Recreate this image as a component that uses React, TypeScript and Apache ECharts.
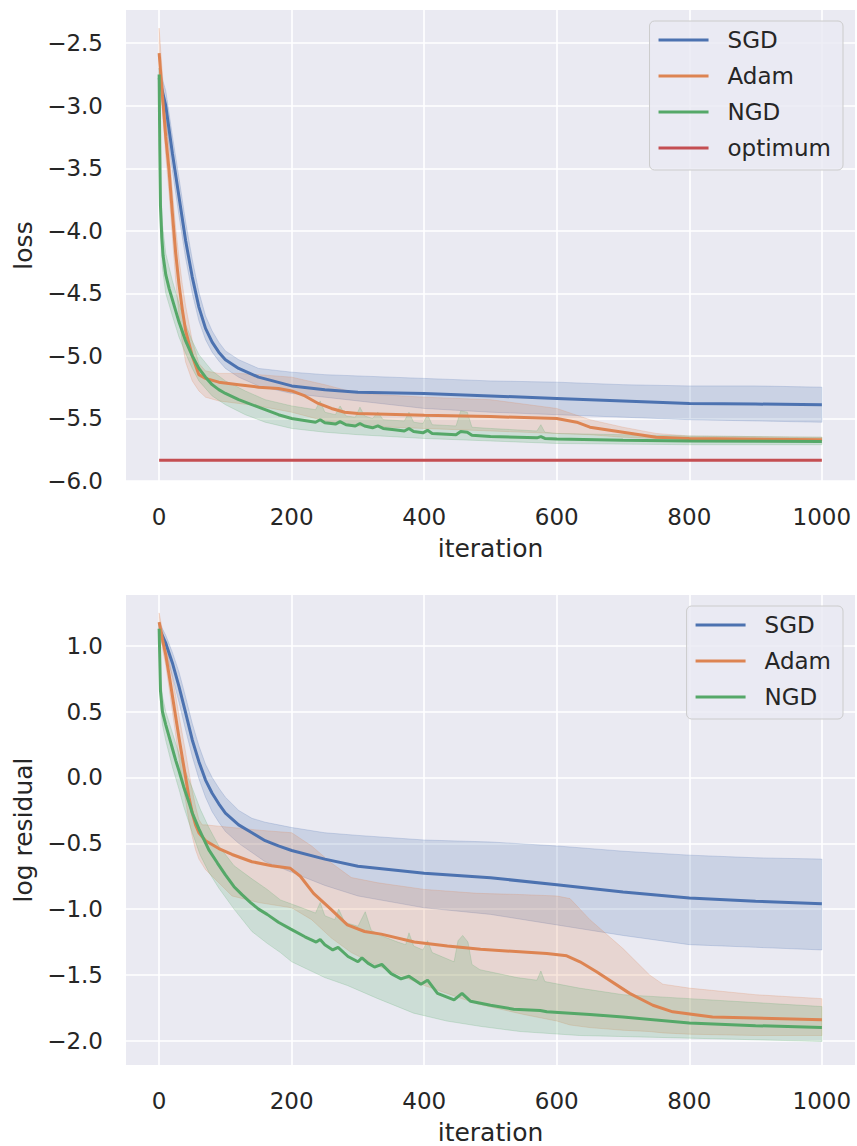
import React, { useEffect, useRef } from 'react';
import * as echarts from 'echarts';

// ---------- data: top panel (loss) ----------
const xTicks = [0, 200, 400, 600, 800, 1000];
const lossTicks = [-6.0, -5.5, -5.0, -4.5, -4.0, -3.5, -3.0, -2.5];
const resTicks = [-2.0, -1.5, -1.0, -0.5, 0.0, 0.5, 1.0];

const lossSgdX = [0, 10, 20, 30, 40, 50, 60, 70, 80, 90, 100, 120, 150, 200, 250, 300, 400, 500, 600, 700, 800, 900, 1000];
const lossSgdY = [-2.78, -3.0, -3.38, -3.73, -4.08, -4.37, -4.61, -4.78, -4.89, -4.97, -5.03, -5.1, -5.17, -5.24, -5.27, -5.29, -5.3, -5.32, -5.34, -5.36, -5.38, -5.385, -5.39];
const lossSgdLo = [-2.85, -3.12, -3.52, -3.88, -4.22, -4.5, -4.72, -4.87, -4.97, -5.04, -5.1, -5.17, -5.24, -5.3, -5.33, -5.36, -5.42, -5.45, -5.47, -5.49, -5.51, -5.52, -5.53];
const lossSgdHi = [-2.7, -2.88, -3.24, -3.58, -3.93, -4.23, -4.49, -4.68, -4.8, -4.89, -4.96, -5.03, -5.1, -5.13, -5.15, -5.16, -5.18, -5.2, -5.21, -5.23, -5.24, -5.24, -5.25];

const lossAdamX = [0, 5, 10, 15, 20, 25, 30, 35, 40, 50, 60, 70, 90, 120, 150, 180, 200, 220, 240, 260, 280, 300, 400, 500, 600, 630, 650, 700, 750, 800, 1000];
const lossAdamY = [-2.58, -2.92, -3.25, -3.52, -3.86, -4.18, -4.43, -4.63, -4.8, -5.0, -5.15, -5.18, -5.21, -5.23, -5.25, -5.26, -5.28, -5.32, -5.38, -5.42, -5.45, -5.46, -5.475, -5.485, -5.5, -5.53, -5.57, -5.61, -5.65, -5.66, -5.67];
const lossAdamBandX = [0, 5, 10, 15, 20, 25, 30, 35, 40, 50, 60, 70, 90, 120, 150, 200, 250, 300, 400, 500, 600, 650, 700, 750, 800, 1000];
const lossAdamLo = [-2.75, -3.05, -3.4, -3.7, -4.05, -4.4, -4.68, -4.9, -5.05, -5.2, -5.28, -5.33, -5.36, -5.38, -5.4, -5.45, -5.52, -5.56, -5.58, -5.6, -5.62, -5.63, -5.65, -5.66, -5.67, -5.68];
const lossAdamHi = [-2.38, -2.75, -3.08, -3.35, -3.68, -3.98, -4.22, -4.43, -4.6, -4.88, -5.06, -5.12, -5.14, -5.14, -5.15, -5.17, -5.23, -5.3, -5.33, -5.35, -5.42, -5.51, -5.57, -5.62, -5.64, -5.65];

const lossNgdX = [0, 1, 2, 4, 6, 10, 15, 20, 30, 40, 50, 60, 70, 80, 90, 100, 120, 150, 180, 200, 236, 243, 250, 266, 273, 282, 296, 303, 310, 322, 330, 338, 355, 370, 377, 384, 398, 405, 412, 448, 455, 465, 472, 500, 570, 576, 582, 600, 700, 800, 1000];
const lossNgdY = [-2.75, -3.35, -3.8, -4.05, -4.2, -4.35, -4.46, -4.55, -4.73, -4.88, -5.0, -5.1, -5.17, -5.23, -5.27, -5.3, -5.35, -5.41, -5.47, -5.5, -5.53, -5.51, -5.535, -5.545, -5.525, -5.55, -5.56, -5.54, -5.56, -5.575, -5.56, -5.58, -5.59, -5.6, -5.58, -5.605, -5.615, -5.595, -5.62, -5.63, -5.605, -5.61, -5.635, -5.645, -5.655, -5.645, -5.66, -5.665, -5.675, -5.68, -5.685];
const lossNgdUpX = [0, 2, 5, 10, 20, 30, 40, 50, 60, 80, 100, 130, 160, 200, 236, 243, 250, 266, 273, 282, 296, 303, 310, 322, 330, 338, 370, 377, 384, 398, 405, 412, 448, 455, 465, 472, 500, 570, 576, 582, 600, 800, 1000];
const lossNgdUpY = [-2.7, -3.6, -3.95, -4.18, -4.4, -4.58, -4.75, -4.88, -4.99, -5.12, -5.2, -5.28, -5.35, -5.4, -5.43, -5.36, -5.45, -5.47, -5.4, -5.48, -5.49, -5.41, -5.48, -5.5, -5.45, -5.51, -5.52, -5.45, -5.53, -5.54, -5.47, -5.55, -5.56, -5.44, -5.45, -5.57, -5.58, -5.6, -5.55, -5.61, -5.62, -5.64, -5.65];
const lossNgdLoX = [0, 2, 5, 10, 20, 30, 40, 50, 60, 80, 100, 130, 160, 200, 250, 300, 400, 500, 600, 800, 1000];
const lossNgdLoY = [-2.8, -4.0, -4.3, -4.5, -4.68, -4.85, -4.98, -5.1, -5.2, -5.32, -5.39, -5.47, -5.53, -5.58, -5.61, -5.63, -5.66, -5.68, -5.7, -5.71, -5.71];

const optimumX = [0, 1000];
const optimumY = [-5.835, -5.835];

// ---------- data: bottom panel (log residual) ----------
const resSgdX = [0, 10, 20, 30, 40, 50, 60, 70, 80, 90, 100, 120, 140, 160, 180, 200, 250, 300, 400, 500, 600, 700, 800, 900, 1000];
const resSgdY = [1.13, 1.02, 0.87, 0.69, 0.49, 0.285, 0.12, -0.02, -0.12, -0.2, -0.27, -0.36, -0.42, -0.48, -0.52, -0.555, -0.62, -0.675, -0.727, -0.762, -0.815, -0.87, -0.916, -0.94, -0.96];
const resSgdLo = [1.08, 0.94, 0.77, 0.57, 0.36, 0.16, -0.01, -0.15, -0.26, -0.34, -0.41, -0.5, -0.57, -0.64, -0.68, -0.72, -0.82, -0.9, -0.99, -1.04, -1.12, -1.2, -1.27, -1.29, -1.31];
const resSgdHi = [1.18, 1.08, 0.95, 0.8, 0.61, 0.41, 0.24, 0.1, 0.0, -0.08, -0.15, -0.25, -0.31, -0.34, -0.36, -0.38, -0.42, -0.44, -0.475, -0.49, -0.52, -0.56, -0.59, -0.61, -0.62];

const resAdamX = [0, 5, 10, 15, 20, 25, 30, 35, 40, 45, 50, 55, 60, 70, 90, 110, 140, 170, 198, 213, 233, 259, 284, 310, 335, 385, 435, 485, 585, 615, 635, 660, 710, 745, 775, 835, 1000];
const resAdamY = [1.18, 1.05, 0.93, 0.78, 0.62, 0.46, 0.3, 0.15, 0.0, -0.15, -0.27, -0.36, -0.42, -0.48, -0.54, -0.585, -0.64, -0.67, -0.69, -0.75, -0.88, -1.0, -1.12, -1.17, -1.19, -1.25, -1.28, -1.305, -1.337, -1.355, -1.4, -1.476, -1.64, -1.73, -1.78, -1.82, -1.84];
const resAdamBandX = [0, 5, 10, 15, 20, 25, 30, 35, 40, 45, 50, 55, 60, 65, 70, 90, 110, 150, 200, 230, 260, 290, 330, 400, 480, 550, 600, 620, 650, 700, 740, 760, 800, 900, 1000];
const resAdamLo = [1.12, 0.98, 0.85, 0.68, 0.5, 0.32, 0.14, -0.03, -0.18, -0.33, -0.45, -0.55, -0.62, -0.66, -0.7, -0.8, -0.9, -0.95, -0.99, -1.08, -1.22, -1.33, -1.43, -1.58, -1.72, -1.8, -1.85, -1.88, -1.9, -1.92, -1.93, -1.94, -1.95, -1.96, -1.96];
const resAdamHi = [1.25, 1.12, 1.02, 0.9, 0.76, 0.62, 0.47, 0.33, 0.19, 0.04, -0.1, -0.22, -0.32, -0.36, -0.36, -0.37, -0.38, -0.4, -0.42, -0.52, -0.65, -0.76, -0.8, -0.85, -0.88, -0.89, -0.9, -0.92, -1.08, -1.3, -1.5, -1.57, -1.6, -1.65, -1.68];

const resNgdX = [0, 2, 5, 10, 15, 20, 25, 30, 37, 45, 50, 60, 75, 88, 100, 113, 125, 138, 150, 163, 180, 198, 220, 237, 243, 250, 262, 270, 285, 300, 306, 315, 325, 336, 350, 365, 377, 395, 405, 420, 445, 457, 470, 500, 535, 575, 585, 650, 700, 800, 900, 1000];
const resNgdY = [1.13, 0.66, 0.5, 0.4, 0.31, 0.22, 0.13, 0.05, -0.07, -0.19, -0.27, -0.39, -0.55, -0.65, -0.74, -0.83, -0.89, -0.95, -1.0, -1.04, -1.1, -1.15, -1.21, -1.25, -1.23, -1.27, -1.31, -1.29, -1.36, -1.4, -1.37, -1.41, -1.44, -1.42, -1.49, -1.53, -1.51, -1.57, -1.54, -1.64, -1.69, -1.64, -1.7, -1.73, -1.76, -1.77, -1.78, -1.8, -1.82, -1.865, -1.885, -1.9];
const resNgdUpX = [0, 2, 5, 10, 20, 30, 37, 50, 62, 75, 90, 113, 140, 163, 183, 210, 236, 243, 250, 265, 271, 280, 300, 311, 320, 334, 360, 372, 377, 384, 398, 405, 412, 445, 451, 458, 466, 472, 484, 540, 570, 576, 582, 634, 700, 800, 1000];
const resNgdUpY = [1.18, 0.75, 0.62, 0.5, 0.34, 0.18, 0.08, -0.08, -0.24, -0.38, -0.52, -0.67, -0.77, -0.85, -0.93, -0.98, -1.03, -0.95, -1.05, -1.08, -1.0, -1.1, -1.13, -1.02, -1.16, -1.2, -1.25, -1.27, -1.18, -1.28, -1.31, -1.24, -1.33, -1.4, -1.24, -1.2, -1.25, -1.42, -1.46, -1.52, -1.54, -1.47, -1.55, -1.6, -1.65, -1.68, -1.74];
const resNgdLoX = [0, 2, 5, 10, 20, 30, 37, 50, 62, 75, 90, 113, 140, 163, 183, 200, 250, 284, 330, 384, 434, 484, 545, 634, 800, 1000];
const resNgdLoY = [1.08, 0.55, 0.4, 0.28, 0.08, -0.09, -0.22, -0.42, -0.59, -0.72, -0.84, -1.0, -1.17, -1.26, -1.33, -1.4, -1.52, -1.58, -1.68, -1.79, -1.85, -1.89, -1.93, -1.96, -1.98, -2.005];

// ---------- styling ----------
const COLORS = { sgd: '#4C72B0', adam: '#DD8452', ngd: '#55A868', opt: '#C44E52' };
const FONT = 'DejaVu Sans';
const TEXT = '#262626';

function rgba(hex: string, a: number) {
  const n = parseInt(hex.slice(1), 16);
  return `rgba(${(n >> 16) & 255},${(n >> 8) & 255},${n & 255},${a})`;
}
const zip = (xs: number[], ys: number[]) => xs.map((x, i) => [x, ys[i]]);
const fmt = (v: number) => v.toFixed(1).replace('-', '\u2212');

function band(idx: number, upX: number[], upY: number[], loX: number[], loY: number[], color: string) {
  return {
    type: 'custom',
    xAxisIndex: idx,
    yAxisIndex: idx,
    silent: true,
    z: 1,
    data: [[upX[0], upY[0]]],
    renderItem: (_p: any, api: any) => {
      const pts: number[][] = [];
      for (let i = 0; i < upX.length; i++) pts.push(api.coord([upX[i], upY[i]]));
      for (let i = loX.length - 1; i >= 0; i--) pts.push(api.coord([loX[i], loY[i]]));
      return {
        type: 'polygon',
        shape: { points: pts },
        style: { fill: rgba(color, 0.2), stroke: rgba(color, 0.22), lineWidth: 1 },
      };
    },
  };
}

function line(name: string, idx: number, xs: number[], ys: number[], color: string) {
  return {
    type: 'line',
    name,
    xAxisIndex: idx,
    yAxisIndex: idx,
    data: zip(xs, ys),
    symbol: 'none',
    showSymbol: false,
    silent: true,
    z: 3,
    lineStyle: { color, width: 3 },
    itemStyle: { color },
  };
}

function xAxis(idx: number) {
  return {
    gridIndex: idx,
    type: 'value',
    min: -50,
    max: 1050,
    name: 'iteration',
    nameLocation: 'middle',
    nameGap: 55,
    nameTextStyle: { fontSize: 25, color: TEXT, fontFamily: FONT },
    axisLine: { show: false },
    axisTick: { show: false, customValues: xTicks },
    axisLabel: { customValues: xTicks, margin: 24, fontSize: 23, color: TEXT, fontFamily: FONT, formatter: (v: number) => String(Math.round(v)) },
    splitLine: { show: true, lineStyle: { color: '#ffffff', width: 1.6 } },
  };
}

function yAxis(idx: number, min: number, max: number, ticks: number[], name: string) {
  return {
    gridIndex: idx,
    type: 'value',
    min,
    max,
    name,
    nameLocation: 'middle',
    nameGap: 86,
    nameTextStyle: { fontSize: 25, color: TEXT, fontFamily: FONT },
    axisLine: { show: false },
    axisTick: { show: false, customValues: ticks },
    axisLabel: { customValues: ticks, margin: 23, fontSize: 23, color: TEXT, fontFamily: FONT, formatter: fmt },
    splitLine: { show: true, lineStyle: { color: '#ffffff', width: 1.6 } },
  };
}

function legend(top: number, names: string[]) {
  return {
    data: names,
    orient: 'vertical',
    right: 14,
    top,
    icon: 'rect',
    itemWidth: 50,
    itemHeight: 3,
    itemGap: 10,
    selectedMode: false,
    textStyle: { fontSize: 23, color: TEXT, fontFamily: FONT, lineHeight: 26, padding: [0, 0, 0, 14] },
    backgroundColor: 'rgba(234,234,242,0.8)',
    borderColor: '#cccccc',
    borderWidth: 1,
    borderRadius: 5,
    padding: [6, 12, 9, 9],
  };
}

export default function App() {
  const ref = useRef<HTMLDivElement>(null);
  useEffect(() => {
    if (!ref.current) return;
    const chart = echarts.init(ref.current, undefined, { renderer: 'svg' });
    chart.setOption({
      animation: false,
      backgroundColor: '#ffffff',
      textStyle: { fontFamily: FONT },
      grid: [
        { left: 126, top: 10, width: 729, height: 471, show: true, backgroundColor: '#EAEAF2', borderWidth: 0 },
        { left: 126, top: 595, width: 729, height: 472, show: true, backgroundColor: '#EAEAF2', borderWidth: 0 },
      ],
      xAxis: [xAxis(0), xAxis(1)],
      yAxis: [yAxis(0, -6.0, -2.235, lossTicks, 'loss'), yAxis(1, -2.184, 1.386, resTicks, 'log residual')],
      legend: [legend(21, ['SGD', 'Adam', 'NGD', 'optimum']), legend(606, ['SGD', 'Adam', 'NGD'])],
      series: [
        band(0, lossSgdX, lossSgdHi, lossSgdX, lossSgdLo, COLORS.sgd),
        band(0, lossAdamBandX, lossAdamHi, lossAdamBandX, lossAdamLo, COLORS.adam),
        band(0, lossNgdUpX, lossNgdUpY, lossNgdLoX, lossNgdLoY, COLORS.ngd),
        line('SGD', 0, lossSgdX, lossSgdY, COLORS.sgd),
        line('Adam', 0, lossAdamX, lossAdamY, COLORS.adam),
        line('NGD', 0, lossNgdX, lossNgdY, COLORS.ngd),
        line('optimum', 0, optimumX, optimumY, COLORS.opt),
        band(1, resSgdX, resSgdHi, resSgdX, resSgdLo, COLORS.sgd),
        band(1, resAdamBandX, resAdamHi, resAdamBandX, resAdamLo, COLORS.adam),
        band(1, resNgdUpX, resNgdUpY, resNgdLoX, resNgdLoY, COLORS.ngd),
        line('SGD', 1, resSgdX, resSgdY, COLORS.sgd),
        line('Adam', 1, resAdamX, resAdamY, COLORS.adam),
        line('NGD', 1, resNgdX, resNgdY, COLORS.ngd),
      ],
    });
    return () => chart.dispose();
  }, []);
  return (
    <div style={{ position: 'absolute', left: 0, top: 0, width: 857, height: 1146, background: '#fff' }}>
      <div ref={ref} style={{ width: 857, height: 1146 }} />
    </div>
  );
}
